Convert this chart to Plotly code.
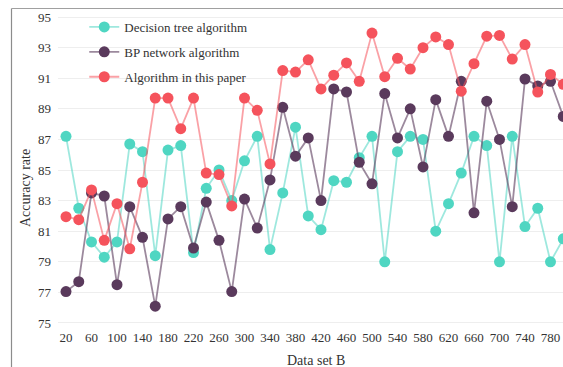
import plotly.graph_objects as go

x_vals = list(range(20, 801, 20))

decision_tree = [87.2, 82.5, 80.3, 79.3, 80.3, 86.7, 86.2, 79.4, 86.3, 86.6,
                 79.6, 83.8, 85.0, 83.0, 85.6, 87.2, 79.8, 83.5, 87.8, 82.0,
                 81.1, 84.3, 84.2, 85.8, 87.2, 79.0, 86.2, 87.2, 87.0, 81.0,
                 82.8, 84.8, 87.2, 86.6, 79.0, 87.2, 81.3, 82.5, 79.0, 80.5]

bp_network = [77.05, 77.7, 83.5, 83.3, 77.5, 82.6, 80.6, 76.1, 81.8, 82.6,
              79.9, 82.9, 80.4, 77.05, 83.1, 81.2, 84.35, 89.1, 85.9, 87.1,
              83.0, 90.3, 90.1, 85.5, 84.1, 90.0, 87.1, 89.0, 85.2, 89.6,
              87.2, 90.8, 82.2, 89.5, 87.0, 82.6, 90.95, 90.5, 90.8, 88.5]

this_paper = [81.95, 81.75, 83.7, 80.4, 82.8, 79.85, 84.2, 89.7, 89.7, 87.7,
              89.7, 84.8, 84.7, 82.65, 89.7, 88.9, 85.4, 91.5, 91.4, 92.2,
              90.3, 91.2, 92.0, 90.8, 93.95, 91.1, 92.3, 91.6, 93.0, 93.7,
              93.2, 90.15, 91.95, 93.75, 93.8, 92.25, 93.2, 90.1, 91.25, 90.6]

x_ticks = list(range(20, 781, 40))
y_ticks = list(range(75, 96, 2))

series = [
    ("Decision tree algorithm", decision_tree, "#4fd6c2", "rgba(79,214,194,0.55)"),
    ("BP network algorithm", bp_network, "#5a3a5c", "rgba(90,58,92,0.6)"),
    ("Algorithm in this paper", this_paper, "#f5535c", "rgba(245,83,92,0.55)"),
]

font_family = "Liberation Serif, Times New Roman, serif"

fig = go.Figure()
for i, (name, vals, mcol, lcol) in enumerate(series):
    fig.add_trace(go.Scatter(
        x=x_vals, y=vals, name=name, mode="lines+markers",
        line=dict(color=lcol, width=1.8),
        marker=dict(color=mcol, size=11),
        legendgroup=f"g{i}",
    ))

border_x = (11.5 - 58) / 505
border_top = (367 - 8.5 - 39) / 316

fig.update_layout(
    width=563, height=367,
    margin=dict(l=58, r=0, t=12, b=39),
    paper_bgcolor="white", plot_bgcolor="white",
    font=dict(family=font_family, size=13, color="#333333"),
    showlegend=True,
    legend=dict(
        x=0.052, y=1.0, xanchor="left", yanchor="top",
        bgcolor="rgba(0,0,0,0)", font=dict(size=13, color="#333333"),
        tracegroupgap=5, itemwidth=30,
    ),
    xaxis=dict(
        range=[7.45, 799.6], tickmode="array", tickvals=x_ticks,
        ticktext=[str(v) for v in x_ticks], showgrid=False, zeroline=False,
        showline=False, ticks="", tickfont=dict(size=13, color="#333333"),
    ),
    yaxis=dict(
        range=[74.67, 95.33], tickmode="array", tickvals=y_ticks,
        showgrid=True, gridcolor="#eeeeee", gridwidth=1, zeroline=False,
        showline=False, ticks="", tickfont=dict(size=13, color="#333333"),
        ticklabelstandoff=6,
    ),
    annotations=[
        dict(text="Data set B", xref="paper", yref="paper", x=(316 - 58) / 505, y=-0.102,
             xanchor="center", yanchor="middle", showarrow=False,
             font=dict(size=14, color="#333333")),
        dict(text="Accuracy rate", xref="paper", yref="paper", x=(25 - 58) / 505,
             y=(355 - 176 - 39) / 316, xanchor="center", yanchor="middle",
             textangle=-90, showarrow=False, font=dict(size=14, color="#333333")),
    ],
    shapes=[
        dict(type="line", xref="paper", yref="paper", layer="above",
             x0=border_x, x1=border_x, y0=border_top, y1=-39 / 316,
             line=dict(color="#8c8c8c", width=1.2)),
        dict(type="line", xref="paper", yref="paper", layer="above",
             x0=border_x, x1=1.0, y0=border_top, y1=border_top,
             line=dict(color="#a0a0a0", width=1.2)),
    ],
)

fig.write_html(
    "out.html",
    config={"displayModeBar": False},
    post_script="document.body.style.margin='0';document.body.style.padding='0';"
                "document.documentElement.style.overflow='hidden';",
)
